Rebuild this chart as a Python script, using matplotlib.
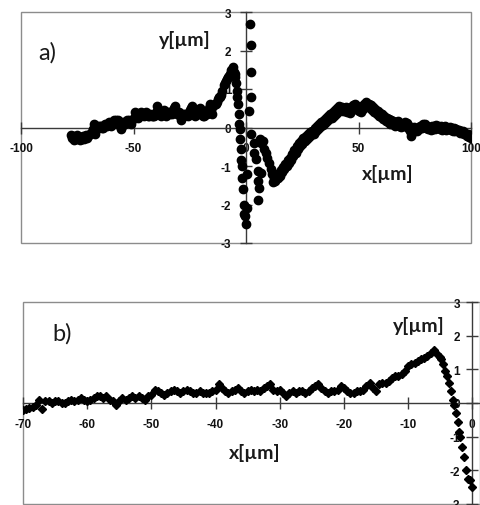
import numpy as np
import matplotlib
matplotlib.use("Agg")
import matplotlib.pyplot as plt
from matplotlib.patches import Rectangle

plt.rcParams['font.family'] = ['Liberation Sans', 'DejaVu Sans']
plt.rcParams['font.weight'] = 'bold'
plt.rcParams['axes.unicode_minus'] = False

# profile left of the dip, (x [um], y [um]) - shared by both panels
profile_neg = [
    (-78, -0.20), (-77.5, -0.28), (-77, -0.22), (-76.5, -0.32), (-76, -0.25), (-75.5, -0.30),
    (-75, -0.20), (-74.5, -0.28), (-74, -0.32), (-73.5, -0.25), (-73, -0.30), (-72.5, -0.22),
    (-72, -0.30), (-71.5, -0.25), (-71, -0.20), (-70.5, -0.27), (-70, -0.20), (-69.5, -0.18),
    (-69, -0.15), (-68.5, -0.12), (-68, -0.05), (-67.5, 0.10), (-67, -0.18), (-66.5, 0.05),
    (-66, 0.05), (-65.5, 0.00), (-65, 0.05), (-64.5, 0.05), (-64, 0.00), (-63.5, 0.00),
    (-63, 0.05), (-62.5, 0.10), (-62, 0.05), (-61.5, 0.10), (-61, 0.15), (-60.5, 0.10),
    (-60, 0.05), (-59.5, 0.10), (-59, 0.15), (-58.5, 0.20), (-58, 0.20), (-57.5, 0.15),
    (-57, 0.20), (-56.5, 0.10), (-56, 0.05), (-55.5, -0.05), (-55, 0.05), (-54.5, 0.15),
    (-54, 0.10), (-53.5, 0.15), (-53, 0.20), (-52.5, 0.15), (-52, 0.20), (-51.5, 0.15),
    (-51, 0.10), (-50.5, 0.20), (-50, 0.25), (-49.5, 0.40), (-49, 0.35), (-48.5, 0.30),
    (-48, 0.25), (-47.5, 0.30), (-47, 0.35), (-46.5, 0.40), (-46, 0.35), (-45.5, 0.30),
    (-45, 0.35), (-44.5, 0.40), (-44, 0.35), (-43.5, 0.30), (-43, 0.30), (-42.5, 0.35),
    (-42, 0.30), (-41.5, 0.30), (-41, 0.30), (-40.5, 0.35), (-40, 0.40), (-39.5, 0.55),
    (-39, 0.45), (-38.5, 0.35), (-38, 0.30), (-37.5, 0.35), (-37, 0.40), (-36.5, 0.45),
    (-36, 0.35), (-35.5, 0.30), (-35, 0.35), (-34.5, 0.40), (-34, 0.35), (-33.5, 0.40),
    (-33, 0.35), (-32.5, 0.45), (-32, 0.50), (-31.5, 0.55), (-31, 0.40), (-30.5, 0.35),
    (-30, 0.40), (-29.5, 0.30), (-29, 0.20), (-28.5, 0.30), (-28, 0.35), (-27.5, 0.30),
    (-27, 0.35), (-26.5, 0.35), (-26, 0.30), (-25.5, 0.35), (-25, 0.45), (-24.5, 0.50),
    (-24, 0.55), (-23.5, 0.45), (-23, 0.35), (-22.5, 0.30), (-22, 0.35), (-21.5, 0.35),
    (-21, 0.40), (-20.5, 0.50), (-20, 0.45), (-19.5, 0.35), (-19, 0.30), (-18.5, 0.30),
    (-18, 0.35), (-17.5, 0.35), (-17, 0.40), (-16.5, 0.50), (-16, 0.60), (-15.5, 0.45),
    (-15, 0.35), (-14.5, 0.55), (-14, 0.60), (-13.5, 0.60), (-13, 0.65), (-12.5, 0.75),
    (-12, 0.80), (-11.5, 0.80), (-11, 0.85), (-10.5, 0.95), (-10, 1.10), (-9.5, 1.15),
    (-9, 1.20), (-8.5, 1.25), (-8, 1.30), (-7.5, 1.35), (-7, 1.40), (-6.5, 1.50),
    (-6, 1.58),
]

# steep drop towards the notch
drop_neg = [
    (-5.5, 1.45), (-5.1, 1.38), (-4.8, 1.30), (-4.5, 1.15), (-4.2, 0.95), (-3.9, 0.80),
    (-3.6, 0.60), (-3.3, 0.35), (-3.0, 0.10), (-2.8, -0.05), (-2.5, -0.30), (-2.3, -0.55),
    (-2.1, -0.85), (-1.9, -1.00), (-1.6, -1.30), (-1.3, -1.60), (-1.0, -2.00), (-0.7, -2.25),
    (-0.4, -2.30), (-0.1, -2.50),
]

# scattered points just right of the notch (panel a only)
center_pos = [
    (1.9, 2.70), (2.0, 2.15), (2.3, 1.45), (2.4, 0.80), (1.5, 0.43), (2.2, -0.18),
    (3.7, -0.40), (3.7, -0.66), (4.4, -0.83), (5.2, -1.14), (6.7, -1.18), (5.2, -1.40),
    (5.9, -1.57), (5.2, -1.88), (0.3, -2.10), (0.6, -1.20),
]

valley_pos = [
    (6.2, -0.30), (6.8, -0.40), (7.4, -0.36), (8.0, -0.55), (8.9, -0.66), (9.5, -0.80),
    (10.4, -0.92), (11.0, -1.08), (11.6, -1.20),
]

profile_pos = [
    (12, -1.42), (12.5, -1.32), (13, -1.38), (13.5, -1.25), (14, -1.32), (14.5, -1.18),
    (15, -1.25), (15.5, -1.10), (16, -1.15), (16.5, -1.02), (17, -1.08), (17.5, -0.95),
    (18, -1.00), (18.5, -0.85), (19, -0.92), (19.5, -0.78), (20, -0.85), (20.5, -0.68),
    (21, -0.75), (21.5, -0.58), (22, -0.65), (22.5, -0.48), (23, -0.55), (23.5, -0.40),
    (24, -0.48), (24.5, -0.35), (25, -0.42), (25.5, -0.28), (26, -0.35), (26.5, -0.22),
    (27, -0.30), (27.5, -0.18), (28, -0.25), (28.5, -0.12), (29, -0.20), (29.5, -0.10),
    (30, -0.16), (30.5, -0.02), (31, -0.10), (31.5, 0.05), (32, -0.03), (32.5, 0.10),
    (33, 0.02), (33.5, 0.15), (34, 0.06), (34.5, 0.20), (35, 0.12), (35.5, 0.25),
    (36, 0.16), (36.5, 0.30), (37, 0.22), (37.5, 0.35), (38, 0.25), (38.5, 0.40),
    (39, 0.30), (39.5, 0.45), (40, 0.35), (40.5, 0.50), (41, 0.40), (41.5, 0.55),
    (42, 0.45), (42.5, 0.52), (43, 0.42), (43.5, 0.50), (44, 0.42), (44.5, 0.52),
    (45, 0.40), (45.5, 0.50), (46, 0.38), (46.5, 0.52), (47, 0.45), (47.5, 0.58),
    (48, 0.48), (48.5, 0.60), (49, 0.50), (49.5, 0.55), (50, 0.42), (50.5, 0.50),
    (51, 0.40), (51.5, 0.55), (52, 0.48), (52.5, 0.62), (53, 0.52), (53.5, 0.65),
    (54, 0.55), (54.5, 0.62), (55, 0.50), (55.5, 0.58), (56, 0.45), (56.5, 0.52),
    (57, 0.40), (57.5, 0.48), (58, 0.35), (58.5, 0.42), (59, 0.30), (59.5, 0.38),
    (60, 0.28), (60.5, 0.35), (61, 0.22), (61.5, 0.30), (62, 0.18), (62.5, 0.25),
    (63, 0.15), (63.5, 0.22), (64, 0.10), (64.5, 0.20), (65, 0.08), (65.5, 0.18),
    (66, 0.05), (66.5, 0.15), (67, 0.10), (67.5, 0.18), (68, 0.05), (68.5, 0.12),
    (69, 0.02), (69.5, 0.10), (70, 0.05), (70.5, 0.15), (71, 0.08), (71.5, 0.12),
    (72, 0.00), (72.5, 0.05), (73, -0.08), (73.5, -0.22), (74, -0.05), (74.5, 0.02),
    (75, -0.08), (75.5, -0.02), (76, -0.10), (76.5, 0.00), (77, -0.05), (77.5, 0.05),
    (78, 0.00), (78.5, 0.10), (79, 0.02), (79.5, 0.08), (80, 0.00), (80.5, 0.05),
    (81, -0.05), (81.5, 0.02), (82, -0.06), (82.5, 0.04), (83, -0.04), (83.5, 0.05),
    (84, -0.05), (84.5, 0.06), (85, -0.02), (85.5, 0.05), (86, -0.05), (86.5, 0.04),
    (87, -0.06), (87.5, 0.02), (88, -0.04), (88.5, 0.04), (89, -0.06), (89.5, 0.00),
    (90, -0.05), (90.5, 0.02), (91, -0.06), (91.5, -0.02), (92, -0.08), (92.5, -0.02),
    (93, -0.10), (93.5, -0.04), (94, -0.10), (94.5, -0.06), (95, -0.14), (95.5, -0.08),
    (96, -0.15), (96.5, -0.10), (97, -0.18), (97.5, -0.14), (98, -0.22), (98.5, -0.17),
    (99, -0.25), (99.5, -0.20), (100, -0.28),
]

a_xticks = [-100, -50, 0, 50, 100]
b_xticks = [-70, -60, -50, -40, -30, -20, -10, 0]
yticks = [-3, -2, -1, 0, 1, 2, 3]


def xy(pairs):
    arr = np.array(pairs)
    return arr[:, 0], arr[:, 1]


def style(ax, xticks, ypad):
    ax.set_xticks(xticks)
    ax.set_yticks(yticks)
    ax.set_xticklabels([str(t) for t in xticks])
    ax.set_yticklabels([str(t) for t in yticks])
    for s in ['top', 'right']:
        ax.spines[s].set_visible(False)
    for s in ['left', 'bottom']:
        ax.spines[s].set_position(('data', 0))
        ax.spines[s].set_color('#3a3a3a')
        ax.spines[s].set_linewidth(1.0)
    ax.tick_params(axis='x', direction='inout', length=8, width=1, color='#3a3a3a',
                   labelsize=8.5, labelcolor='#111111', pad=6.8)
    ax.tick_params(axis='y', direction='inout', length=8, width=1, color='#3a3a3a',
                   labelsize=8.5, labelcolor='#111111', pad=ypad)
    ax.patch.set_visible(False)
    ax.add_patch(Rectangle((0, 0), 1, 1, transform=ax.transAxes, fill=False,
                           ec='#8c8c8c', lw=1, clip_on=False, zorder=1))


W, H = 480, 506
fig = plt.figure(figsize=(W / 100, H / 100), dpi=100)

neg_x, neg_y = xy(profile_neg + drop_neg)
pos_x, pos_y = xy(center_pos + valley_pos + profile_pos)

# panel a
ax_a = fig.add_axes([21 / W, 1 - 244 / H, 450 / W, 231 / H])
ax_a.plot(neg_x, neg_y, 'o', ms=6.0, color='black', zorder=3)
ax_a.plot(pos_x, pos_y, 'o', ms=6.0, color='black', zorder=3)
ax_a.set_xlim(-100, 100)
ax_a.set_ylim(-3, 3)
style(ax_a, a_xticks, 6.5)

# panel b
ax_b = fig.add_axes([23 / W, 1 / H, 457 / W, 202 / H])
ax_b.plot(neg_x, neg_y, 'D', ms=3.8, color='black', zorder=3)
ax_b.set_xlim(-70, 1.2)
ax_b.set_ylim(-3, 3)
style(ax_b, b_xticks, 5)


def label(x, y, s, size, weight='bold'):
    fig.text(x / W, 1 - y / H, s, ha='center', va='center', fontsize=size,
             fontweight=weight, family=['Lato', 'DejaVu Sans'], color='#1a1a1a')


label(47, 53, 'a)', 17, 'normal')
label(185, 40, 'y[µm]', 14)
label(388, 174, 'x[µm]', 14)
label(62, 334, 'b)', 17, 'normal')
label(419, 326, 'y[µm]', 14)
label(255, 453, 'x[µm]', 14)

fig.savefig('out.png', dpi=100)
